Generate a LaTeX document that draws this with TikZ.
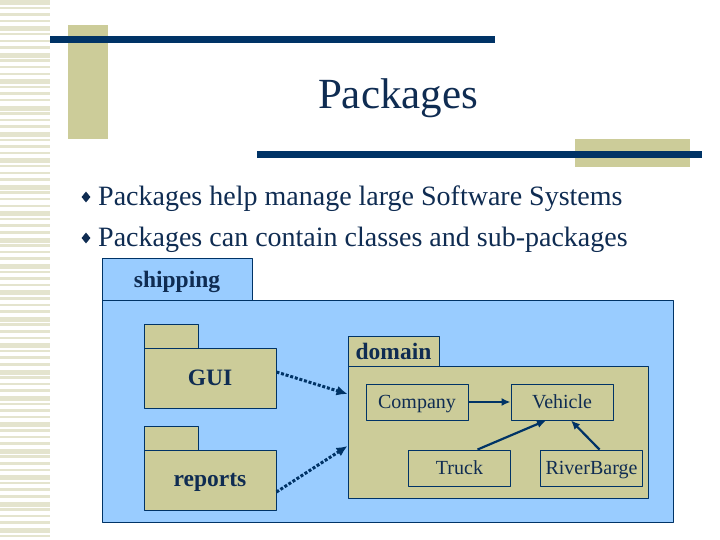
\documentclass[tikz,border=0pt]{standalone}
\usepackage{fontspec}
\setmainfont{Liberation Serif}
\usetikzlibrary{arrows.meta,shapes.geometric}
\definecolor{navy}{HTML}{003366}
\definecolor{ink}{HTML}{0F2C52}
\definecolor{sand}{HTML}{CCCC99}
\definecolor{sky}{HTML}{99CCFF}
\definecolor{stripe}{HTML}{E4E4CE}

\begin{document}
\begin{tikzpicture}[x=1pt, y=-1pt,
			line join=round,
			every node/.style = {inner sep=0pt, text=ink},
			pkg/.style = {draw=navy, line width=.9pt, fill=#1},
			pkg/.default = sand,
			pkgname/.style = {text depth=0pt, font=\bfseries\fontsize{23.5}{28}\selectfont},
			cls/.style = {draw=navy, line width=.9pt, minimum width=102pt, minimum height=36pt, text depth=0pt, font=\fontsize{20}{24}\selectfont},
			dep/.style = {draw=navy, line width=3pt, dash pattern=on 3pt off 1.8pt, -{Latex[length=11pt,width=10pt]}},
			assoc/.style = {draw=navy, line width=2.2pt, -{Latex[length=9pt,width=8pt]}},
			bullet/.style = {diamond, fill=ink, minimum width=9pt, minimum height=11pt}
			]
			\useasboundingbox[fill=white] (0,0) rectangle (720,540);
			% striped margin
			\foreach \y [count=\i] in {0,6.6,...,536} {
				\pgfmathsetmacro{\h}{mod(\i,4)==1 ? 5 : 2.5}
				\fill[stripe] (0,\y) rectangle (50,\y+\h);
			}
			% title decoration
			\fill[sand] (68,25) rectangle (108,139);
			\fill[navy] (50,36) rectangle (495,43);
			\fill[sand] (575,139) rectangle (690,167);
			\fill[navy] (257,151) rectangle (702,158);
			\node[anchor=base, font=\fontsize{43}{50}\selectfont] (title) at (398,109) {Packages};
			% bullets
			\node[bullet] (b1) at (86,197) {};
			\node[anchor=base west, font=\fontsize{28}{34}\selectfont] (l1) at (98,206) {Packages help manage large Software Systems};
			\node[bullet] (b2) at (86,238) {};
			\node[anchor=base west, font=\fontsize{28}{34}\selectfont] (l2) at (98,247) {Packages can contain classes and sub-packages};
			% shipping
			\node[pkg=sky, pkgname, minimum width=150pt, minimum height=42pt] (shiptab) at (177,279) {shipping};
			\node[pkg=sky, minimum width=571pt, minimum height=222pt] (ship) at (387.5,411) {};
			% GUI and reports
			\node[pkg, minimum width=54pt, minimum height=24pt] (guitab) at (171,336) {};
			\node[pkg, pkgname, minimum width=132pt, minimum height=60pt] (gui) at (210,378) {GUI};
			\node[pkg, minimum width=54pt, minimum height=24pt] (reportstab) at (171,438) {};
			\node[pkg, pkgname, minimum width=132pt, minimum height=60pt] (reports) at (210,480) {reports};
			% domain
			\node[pkg, pkgname, minimum width=91pt, minimum height=30pt] (domaintab) at (393.5,351) {domain};
			\node[pkg, minimum width=300pt, minimum height=132pt] (domain) at (498,432) {};
			\node[cls] (company) at (417,402) {Company};
			\node[cls] (vehicle) at (562,402) {Vehicle};
			\node[cls] (truck) at (459.5,468) {Truck};
			\node[cls] (barge) at (591.5,468) {RiverBarge};
			% connectors
			\draw[assoc] (company) -- (vehicle);
			\draw[assoc] ([xshift=18pt]truck.north) -- ([xshift=-16pt]vehicle.south);
			\draw[assoc] ([xshift=8pt]barge.north) -- ([xshift=9pt]vehicle.south);
			\draw[dep] ([yshift=6pt]gui.east) -- ([yshift=38pt]domain.west);
			\draw[dep] ([yshift=-12pt]reports.east) -- ([yshift=-14pt]domain.west);
\end{tikzpicture}
\end{document}
